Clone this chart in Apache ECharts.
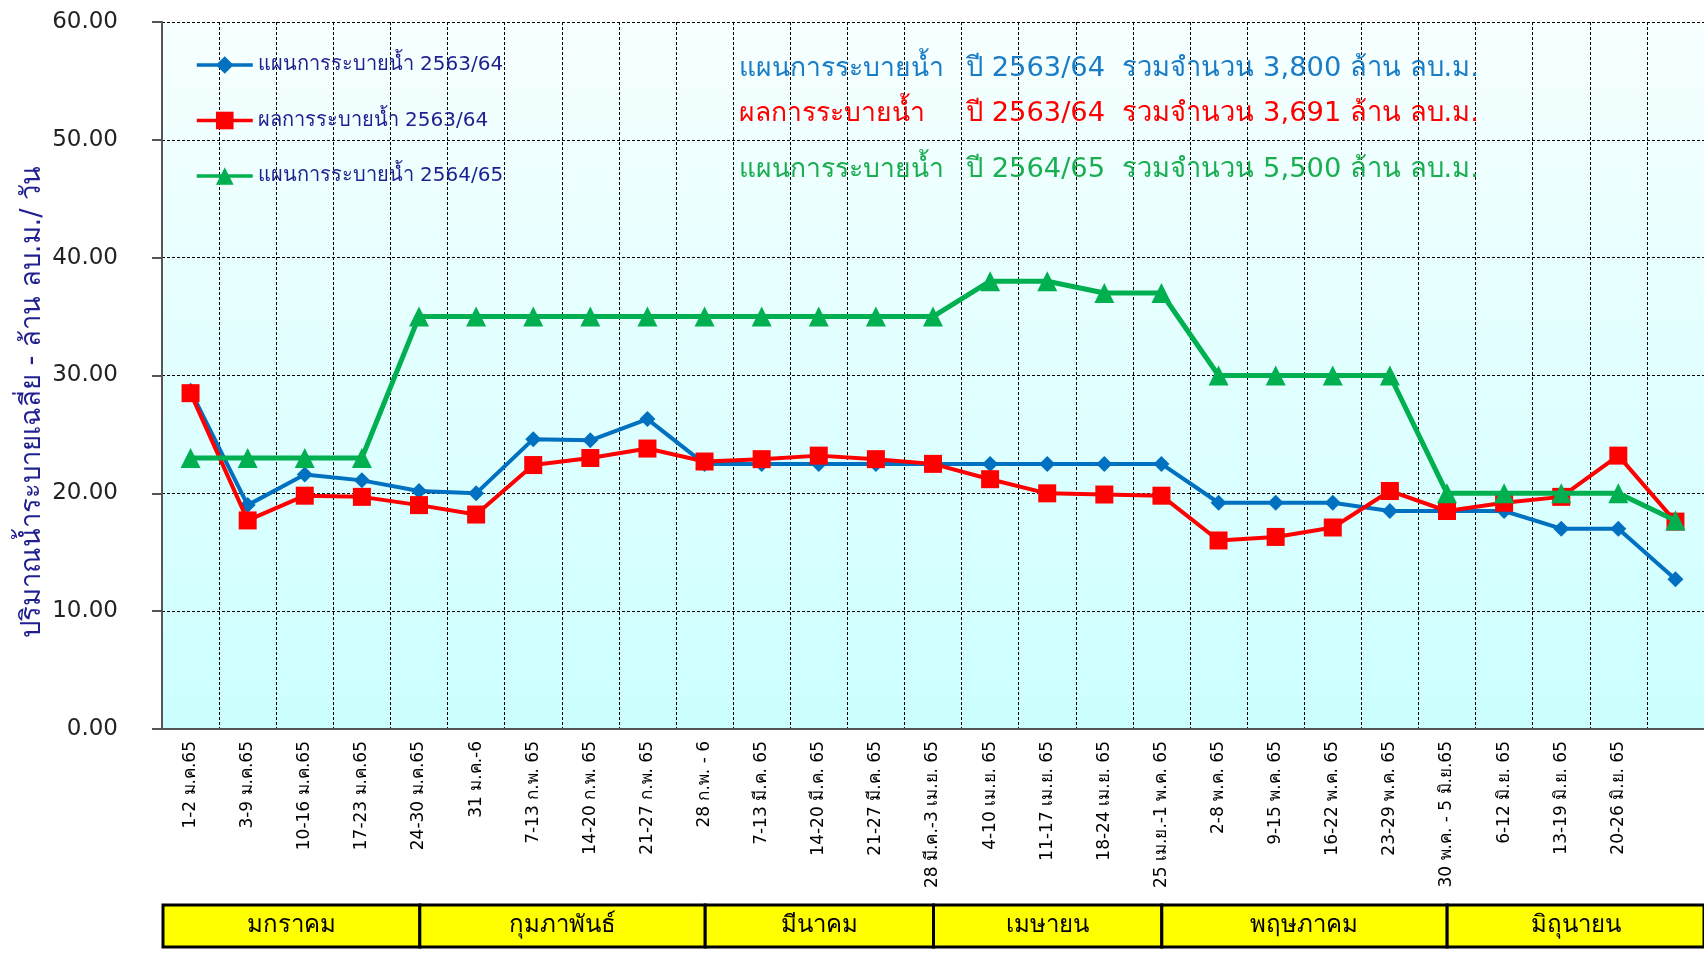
<!DOCTYPE html>
<html>
<head>
<meta charset="utf-8">
<script src="https://cdn.jsdelivr.net/npm/echarts@6/dist/echarts.min.js"></script>
<style>
html,body{margin:0;padding:0;background:#fff;}
#main{width:1704px;height:953px;}
</style>
</head>
<body>
<div id="main"></div>
<script>
const categories = ['1-2 ม.ค.65','3-9 ม.ค.65','10-16 ม.ค.65','17-23 ม.ค.65','24-30 ม.ค.65','31 ม.ค.-6','7-13 ก.พ. 65','14-20 ก.พ. 65','21-27 ก.พ. 65','28 ก.พ. - 6','7-13 มี.ค. 65','14-20 มี.ค. 65','21-27 มี.ค. 65','28 มี.ค.-3 เม.ย. 65','4-10 เม.ย. 65','11-17 เม.ย. 65','18-24 เม.ย. 65','25 เม.ย.-1 พ.ค. 65','2-8 พ.ค. 65','9-15 พ.ค. 65','16-22 พ.ค. 65','23-29 พ.ค. 65','30 พ.ค. - 5 มิ.ย.65','6-12 มิ.ย. 65','13-19 มิ.ย. 65','20-26 มิ.ย. 65',''];
const plan6364 = [28.7,19.0,21.6,21.1,20.2,20.0,24.6,24.5,26.3,22.5,22.5,22.5,22.5,22.5,22.5,22.5,22.5,22.5,19.2,19.2,19.2,18.5,18.5,18.5,17.0,17.0,12.7];
const result6364 = [28.5,17.7,19.8,19.7,19.0,18.2,22.4,23.0,23.8,22.7,22.9,23.2,22.9,22.5,21.2,20.0,19.9,19.8,16.0,16.3,17.1,20.2,18.5,19.2,19.7,23.2,17.6];
const plan6465 = [23,23,23,23,35,35,35,35,35,35,35,35,35,35,38,38,37,37,30,30,30,30,20,20,20,20,17.7];
const seriesNames = ['แผนการระบายน้ำ 2563/64','ผลการระบายน้ำ 2563/64','แผนการระบายน้ำ 2564/65'];
const months = ['มกราคม','กุมภาพันธ์','มีนาคม','เมษายน','พฤษภาคม','มิถุนายน'];
const monthStart = [0,4.5,9.5,13.5,17.5,22.5];
const monthEnd = [4.5,9.5,13.5,17.5,22.5,27];
const yMin = 0, yMax = 60, yStep = 10;
const yAxisTitle = 'ปริมาณน้ำระบายเฉลี่ย - ล้าน ลบ.ม./ วัน';
const notePrefix = ['แผนการระบายน้ำ','ผลการระบายน้ำ','แผนการระบายน้ำ'];
const noteRest = ['ปี 2563/64  รวมจำนวน 3,800 ล้าน ลบ.ม.','ปี 2563/64  รวมจำนวน 3,691 ล้าน ลบ.ม.','ปี 2564/65  รวมจำนวน 5,500 ล้าน ลบ.ม.'];

const FONT = 'Tahoma, "DejaVu Sans", "Noto Sans", sans-serif';
const colors = ['#0070c0','#ff0000','#00b050'];
const noteColors = ['#1a7cc4','#ff0000','#1aae50'];
const noteY = [69,114,170];

const chart = echarts.init(document.getElementById('main'), null, {renderer:'canvas'});

const monthData = months.map((m,i)=>[monthStart[i], monthEnd[i], m]);

const graphics = [
  {type:'text', x: 33, y: 402, rotation: Math.PI/2,
   style:{text: yAxisTitle, fill:'#1f1f8f', font: '27.5px ' + FONT, align:'center', verticalAlign:'middle'}, z: 10}
];
for (let i=0;i<3;i++){
  graphics.push({type:'text', x:739, y:noteY[i], style:{text:notePrefix[i], fill:noteColors[i], font:'26.5px '+FONT, verticalAlign:'middle', align:'left'}, z:10});
  graphics.push({type:'text', x:966, y:noteY[i], style:{text:noteRest[i], fill:noteColors[i], font:'27.3px '+FONT, verticalAlign:'middle', align:'left'}, z:10});
}

const option = {
  animation:false,
  backgroundColor:'#fff',
  textStyle:{fontFamily:FONT},
  grid:[
    {left:162, top:22, right:0, bottom:224, show:true, borderWidth:0,
     backgroundColor:{type:'linear',x:0,y:0,x2:0,y2:1,colorStops:[{offset:0,color:'#f7ffff'},{offset:1,color:'#ccffff'}]}},
    {left:163, right:0, top:905, height:42}
  ],
  legend:{
    orient:'vertical', left:190, top:50, itemGap:35.5, itemWidth:56, itemHeight:22,
    data:seriesNames,
    lineStyle:{width:3.5},
    textStyle:{color:'#1f1f8f', fontSize:20, fontFamily:FONT}
  },
  xAxis:[
    {type:'category', data:categories, gridIndex:0, boundaryGap:true,
     axisLine:{lineStyle:{color:'#555', width:2}},
     axisTick:{show:false},
     axisLabel:{rotate:90, interval:0, fontSize:17, color:'#000', margin:12, fontFamily:FONT},
     splitLine:{show:true, interval:0, lineStyle:{color:'#000', type:[3,2], width:1}}},
    {type:'value', gridIndex:1, min:0, max:27, show:false}
  ],
  yAxis:[
    {type:'value', gridIndex:0, min:yMin, max:yMax, interval:yStep,
     axisLine:{show:true, lineStyle:{color:'#555', width:2}},
     axisTick:{show:true, length:10, lineStyle:{color:'#555', width:2}},
     axisLabel:{formatter:v=>v.toFixed(2), fontSize:23, color:'#222', margin:44, fontFamily:FONT},
     splitLine:{show:true, lineStyle:{color:'#000', type:[3,2], width:1}}},
    {type:'value', gridIndex:1, min:0, max:1, show:false}
  ],
  series:[
    {name:seriesNames[0], type:'line', data:plan6364, color:colors[0], symbol:'diamond', symbolSize:16,
     lineStyle:{width:4}, itemStyle:{color:colors[0]}, z:2},
    {name:seriesNames[1], type:'line', data:result6364, color:colors[1], symbol:'rect', symbolSize:18,
     lineStyle:{width:4}, itemStyle:{color:colors[1]}, z:3},
    {name:seriesNames[2], type:'line', data:plan6465, color:colors[2], symbol:'triangle', symbolSize:20,
     lineStyle:{width:5}, itemStyle:{color:colors[2]}, z:4},
    {type:'custom', xAxisIndex:1, yAxisIndex:1, data:monthData, silent:true,
     renderItem:(params, api)=>{
       const p1 = api.coord([api.value(0), 1]);
       const p2 = api.coord([api.value(1), 0]);
       return {type:'group', children:[
         {type:'rect', shape:{x:p1[0], y:p1[1], width:p2[0]-p1[0], height:p2[1]-p1[1]},
          style:{fill:'#ffff00', stroke:'#000', lineWidth:3}},
         {type:'text', x:(p1[0]+p2[0])/2, y:(p1[1]+p2[1])/2,
          style:{text: months[params.dataIndex], fill:'#000', font:'24px '+FONT, align:'center', verticalAlign:'middle'}}
       ]};
     }}
  ],
  graphic: graphics
};
chart.setOption(option);
</script>
</body>
</html>
